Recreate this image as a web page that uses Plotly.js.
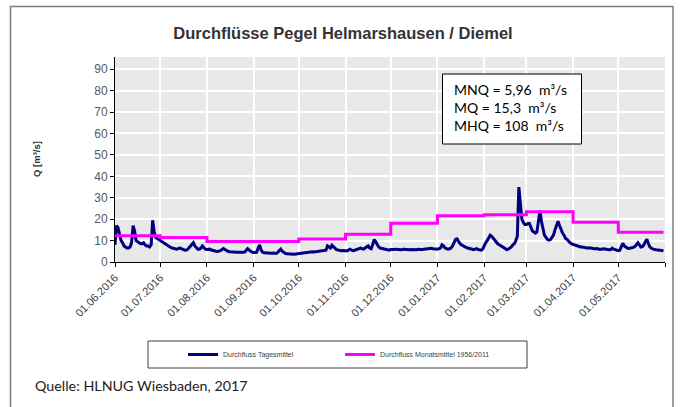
<!DOCTYPE html>
<html>
<head>
<meta charset="utf-8">
<script src="https://cdn.plot.ly/plotly-3.0.1.min.js"></script>
<style>
    body { margin: 0; background: #ffffff; }
    #chart { width: 686px; height: 407px; }
</style>
</head>
<body>
<div id="chart"></div>
<script>

// Tagesmittel [m³/s], one array per month
let jun2016 = [8, 17, 16, 13.5, 10, 9, 7.5, 7, 6.5, 6.5, 7, 9, 17, 14.5, 10, 9.5, 9, 8.5, 8.5, 9, 8, 7.5, 7.5, 7, 8, 19.5, 14, 11.5, 11, 10.5];
let jul2016 = [10, 9.5, 9, 8.5, 8, 7.5, 7, 6.8, 6.5, 6.3, 6.2, 6, 6.2, 6.6, 6.2, 5.8, 5.6, 5.5, 5.8, 6.5, 7.5, 8.5, 9, 7.5, 6.5, 6, 6, 6.5, 7.5, 6.5, 6];
let aug2016 = [5.8, 6, 6, 5.6, 5.3, 5.1, 5, 4.9, 5, 5.3, 5.8, 6.3, 5.8, 5.2, 5, 4.8, 4.7, 4.6, 4.6, 4.5, 4.5, 4.6, 4.5, 4.4, 4.5, 4.6, 5.2, 6.2, 5.6, 5, 4.6];
let sep2016 = [4.4, 4.3, 4.5, 6.5, 8, 5.5, 4.6, 4.3, 4.2, 4.1, 4, 4, 4.1, 4.2, 4, 4, 4.5, 5.5, 6, 5, 4.4, 4, 3.8, 3.7, 3.6, 3.6, 3.7, 3.6, 3.7, 3.8];
let oct2016 = [4, 4.2, 4.3, 4.2, 4.5, 4.6, 4.4, 4.5, 4.8, 4.8, 4.7, 4.8, 5, 5, 4.9, 5, 5.2, 5.2, 5.5, 7.5, 7, 6.5, 7.8, 7, 6.2, 5.8, 5.6, 5.4, 5.3, 5.4, 5.5];
let nov2016 = [5.3, 5.2, 5.5, 6, 5.5, 5.3, 5.5, 5.8, 6, 6.2, 6.5, 6.2, 6, 6.5, 7, 7.5, 6.5, 6.2, 8, 10.5, 9.5, 8, 7, 6.5, 6.3, 6, 5.8, 5.7, 5.6, 5.5];
let dec2016 = [5.8, 5.7, 5.8, 6, 5.9, 5.7, 5.6, 5.7, 5.8, 6, 5.8, 5.7, 5.6, 5.7, 5.8, 5.7, 5.6, 5.7, 5.9, 5.8, 5.7, 5.8, 6, 6.1, 5.9, 6, 6.2, 6.4, 6.2, 6, 6.1];
let jan2017 = [6, 6.2, 6.5, 8, 7.5, 6.5, 6.3, 6, 6.2, 6.5, 7.5, 9, 10.5, 10.8, 9.5, 8.5, 8, 7.5, 7, 6.8, 6.5, 6.3, 6.2, 6, 5.8, 6, 6.2, 5.8, 5.6, 5.5, 6];
let feb2017 = [8, 9, 10, 11.5, 12.5, 12, 11, 10, 9, 8.5, 8, 7.5, 7, 6.5, 6, 5.8, 6, 6.5, 7, 8, 8.5, 10, 12, 35, 28, 20, 18.5, 17.5];
let mar2017 = [17.5, 18, 18, 16, 14.5, 14, 13.5, 14, 20, 24, 19, 15, 12.5, 11.5, 10.5, 10.2, 10.5, 11.5, 12.5, 15, 17.5, 19, 17, 15, 13.5, 12.5, 11, 10.5, 9.5, 9, 8.5];
let apr2017 = [8.2, 8, 7.6, 7.3, 7.2, 7, 7, 6.8, 6.6, 6.5, 6.4, 6.6, 6.4, 6.3, 6.2, 6.2, 6.3, 6, 5.9, 6, 6.2, 6, 5.8, 5.8, 5.7, 5.8, 6.5, 6, 5.8, 5.6];
let may2017 = [5.3, 5.5, 7, 8.7, 7.5, 6.8, 6.5, 6.3, 6.4, 6.5, 6.8, 7.2, 8.2, 9, 8, 7, 7.2, 8, 9.5, 10.6, 8.5, 7, 6.4, 6, 5.8, 5.7, 5.6, 5.5, 5.4, 5.3, 5.3];

// Monatsmittel 1956/2011 [m³/s]
let monthStarts = ["2016-06-01", "2016-07-01", "2016-08-01", "2016-09-01", "2016-10-01", "2016-11-01",
                   "2016-12-01", "2017-01-01", "2017-02-01", "2017-03-01", "2017-04-01", "2017-05-01"];
let monthMeans = [12.2, 11.4, 9.6, 9.6, 10.7, 12.9, 18.1, 21.6, 22.0, 23.5, 18.6, 13.9];

let tickDates = monthStarts.concat(["2017-06-01"]);
let tickLabels = ["01.06.2016", "01.07.2016", "01.08.2016", "01.09.2016", "01.10.2016", "01.11.2016",
                  "01.12.2016", "01.01.2017", "01.02.2017", "01.03.2017", "01.04.2017", "01.05.2017", ""];

let infoLines = ["MNQ = 5,96\u00a0 m³/s", "MQ = 15,3\u00a0 m³/s", "MHQ = 108\u00a0 m³/s"];

let daily = [].concat(jun2016, jul2016, aug2016, sep2016, oct2016, nov2016,
                      dec2016, jan2017, feb2017, mar2017, apr2017, may2017);

function dayString(i) {
    let d = new Date(Date.UTC(2016, 5, 1 + i));
    return d.getUTCFullYear() + "-" +
        String(d.getUTCMonth() + 1).padStart(2, "0") + "-" +
        String(d.getUTCDate()).padStart(2, "0");
}

let days = daily.map(function(v, i) { return dayString(i); });

// plot area in pixels: x 115..665, y 57..262
function px(x) { return (x - 115) / 550; }
function py(y) { return (262 - y) / 205; }

let tages = {
    name: "Durchfluss Tagesmittel", x: days, y: daily,
    type: "scatter", mode: "lines",
    line: {color: "#000080", width: 3},
};

let monat = {
    name: "Durchfluss Monatsmittel 1956/2011",
    x: monthStarts.concat([days[days.length - 1]]),
    y: monthMeans.concat([monthMeans[monthMeans.length - 1]]),
    type: "scatter", mode: "lines",
    line: {color: "#ff00ff", width: 3, shape: "hv"},
};

let layout = {
    width: 686, height: 407,
    margin: {l: 115, r: 21, t: 57, b: 145},
    paper_bgcolor: "#ffffff",
    plot_bgcolor: "#e8e8e8",
    font: {family: "Liberation Sans, Arial, sans-serif", color: "#404040"},
    title: {
        text: "<b>Durchflüsse Pegel Helmarshausen / Diemel</b>",
        xref: "container", x: 0.5, xanchor: "center",
        yref: "container", y: 1 - 33 / 407, yanchor: "middle",
        font: {size: 16.5, color: "#333333"},
    },
    xaxis: {
        type: "date",
        range: ["2016-06-01", "2017-06-01"],
        tickmode: "array", tickvals: tickDates, ticktext: tickLabels,
        tickangle: -45, tickfont: {size: 11, color: "#404040"},
        ticks: "outside", ticklen: 4, tickcolor: "#000000",
        showline: true, linecolor: "#000000", linewidth: 1,
        showgrid: true, gridcolor: "#ffffff", gridwidth: 2,
        zeroline: false, fixedrange: true,
    },
    yaxis: {
        range: [0, 95.7],
        tickmode: "linear", tick0: 0, dtick: 10,
        tickfont: {size: 12, color: "#595959"},
        ticks: "outside", ticklen: 4, tickcolor: "#000000",
        showline: true, linecolor: "#000000", linewidth: 1,
        showgrid: true, gridcolor: "#ffffff", gridwidth: 2,
        zeroline: false, fixedrange: true,
    },
    showlegend: true,
    legend: {
        orientation: "h",
        x: px(183), xanchor: "left",
        y: py(354.5), yanchor: "middle",
        bgcolor: "rgba(0,0,0,0)", borderwidth: 0,
        font: {size: 7, color: "#404040"},
        entrywidth: 112,
    },
    shapes: [
        // outer frame
        {type: "rect", xref: "paper", yref: "paper",
         x0: px(10.5), x1: px(673), y0: py(430), y1: py(6.5),
         line: {color: "#7f7f7f", width: 1.5}, layer: "above"},
        // info box
        {type: "rect", xref: "paper", yref: "paper",
         x0: px(442.5), x1: px(581.5), y0: py(144), y1: py(74),
         line: {color: "#000000", width: 1}, fillcolor: "#ffffff", layer: "above"},
        // legend box
        {type: "rect", xref: "paper", yref: "paper",
         x0: px(148), x1: px(527), y0: py(368), y1: py(341),
         line: {color: "#404040", width: 1}, fillcolor: "rgba(0,0,0,0)", layer: "above"},
    ],
    annotations: [
        {text: infoLines.join("<br>"), xref: "paper", yref: "paper",
         x: px(452), xanchor: "left", y: py(107.5), yanchor: "middle",
         align: "left", showarrow: false,
         font: {family: "Lato, sans-serif", size: 14, color: "#000000"}},
        {text: "<b>Q [m³/s]</b>", xref: "paper", yref: "paper",
         x: px(36), xanchor: "center", y: py(159), yanchor: "middle",
         textangle: -90, showarrow: false,
         font: {size: 9.5, color: "#333333"}},
        {text: "Quelle: HLNUG Wiesbaden, 2017", xref: "paper", yref: "paper",
         x: px(33), xanchor: "left", y: py(385.5), yanchor: "middle",
         showarrow: false,
         font: {family: "Lato, sans-serif", size: 14.3, color: "#222222"}},
    ],
};

Plotly.newPlot("chart", [tages, monat], layout, {displayModeBar: false, staticPlot: true});

</script>
</body>
</html>
